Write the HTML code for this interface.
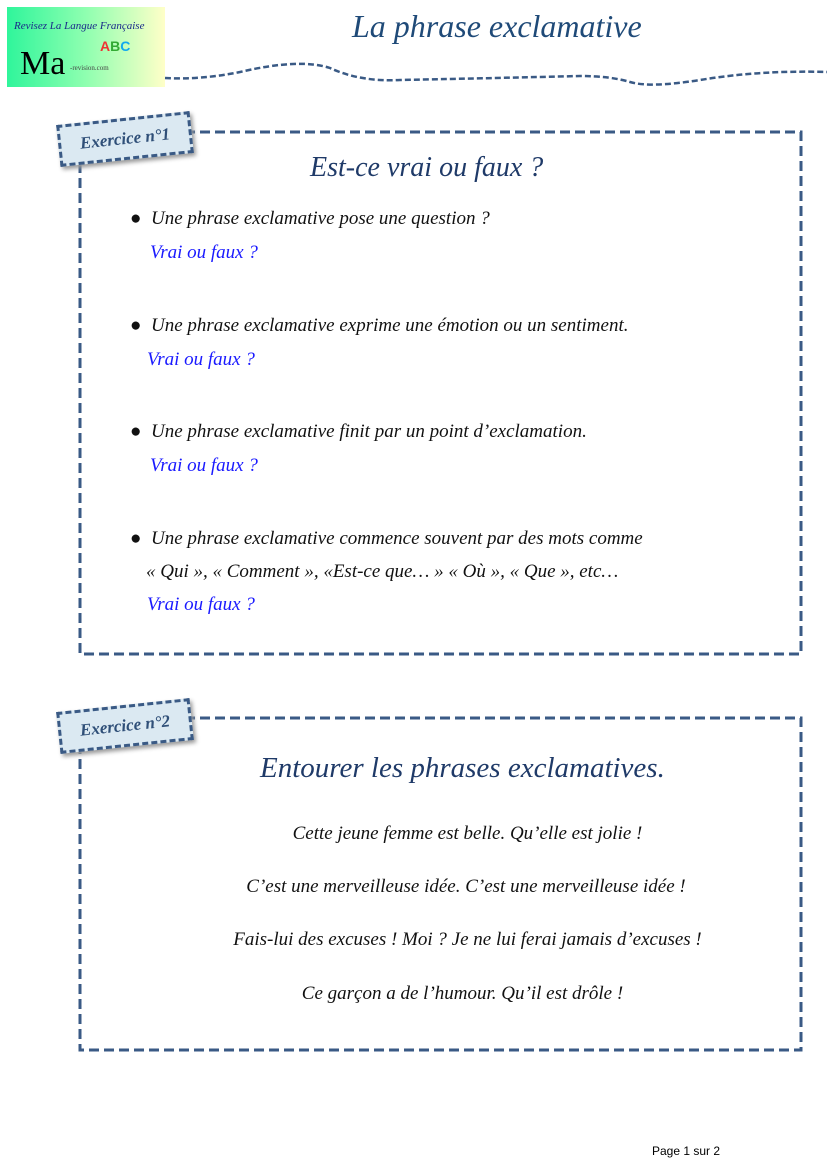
<!DOCTYPE html>
<html><head><meta charset="utf-8"><style>
body{margin:0;width:827px;height:1160px;background:#fff;position:relative;overflow:hidden;font-family:"Liberation Serif",serif}
.a{position:absolute;white-space:nowrap}
.it{font-style:italic}
.lab{position:absolute;background:#dbe9f2;border:3px dashed #3a5a85;transform:rotate(-6deg);font:bold italic 17px "Liberation Serif",serif;color:#2f4f78;text-align:center;box-shadow:2px 3px 4px #999}
.bl{color:#1a1aff}
.b{font-size:19px;color:#111}
</style></head><body>
<div class="a" style="left:7px;top:7px;width:158px;height:80px;background:linear-gradient(90deg,#2ff59b,#8fffb0 50%,#ffffc8)"></div>
<div class="a" style="left:14px;top:20px;font-size:11px;color:#1a2a8a;font-style:italic">Revisez La Langue Française</div>
<div class="a" style="left:100px;top:38px;font:bold 14px 'Liberation Sans';color:#e33">A<span style="color:#3a3">B</span><span style="color:#1ae">C</span></div>
<div class="a" style="left:20px;top:45px;font-size:34px;color:#000">Ma</div>
<div class="a" style="left:70px;top:64px;font-size:7px;color:#444">-revision.com</div>
<div class="a it" style="left:352px;top:8px;font-size:32px;color:#1f4a78">La  phrase exclamative</div>
<svg class="a" style="left:0;top:50px" width="827" height="40"><path d="M165 28 Q200 30 240 22 Q300 8 330 18 Q360 32 400 30 Q500 28 580 26 Q610 26 630 32 Q650 38 700 30 Q760 20 827 22" fill="none" stroke="#3a5a85" stroke-width="2.5" stroke-dasharray="6 3"/></svg>
<svg class="a" style="left:0;top:0" width="827" height="1160">
<g fill="none" stroke="#3a5a85" stroke-width="3" stroke-dasharray="10 5">
<rect x="80" y="132" width="721" height="522"/>
<rect x="80" y="718" width="721" height="332"/>
</g></svg>
<div class="lab" style="left:58px;top:118px;width:128px;height:36px;line-height:36px">Exercice n°1</div>
<div class="a it" style="left:310px;top:152px;font-size:28px;color:#1f3a68">Est-ce vrai ou faux ?</div>
<div class="a it b" style="left:130px;top:208px">●&nbsp;&nbsp;Une phrase exclamative  pose  une question ?</div>
<div class="a it bl" style="left:150px;top:242px;font-size:19px">Vrai ou faux ?</div>
<div class="a it b" style="left:130px;top:315px">●&nbsp;&nbsp;Une phrase exclamative exprime une émotion ou un sentiment.</div>
<div class="a it bl" style="left:147px;top:349px;font-size:19px">Vrai ou faux ?</div>
<div class="a it b" style="left:130px;top:421px">●&nbsp;&nbsp;Une phrase  exclamative  finit par un point d’exclamation.</div>
<div class="a it bl" style="left:150px;top:455px;font-size:19px">Vrai ou faux ?</div>
<div class="a it b" style="left:130px;top:528px">●&nbsp;&nbsp;Une phrase exclamative commence souvent par des mots comme</div>
<div class="a it b" style="left:146px;top:561px">« Qui »,  « Comment »,  «Est-ce que… » « Où »,  « Que », etc…</div>
<div class="a it bl" style="left:147px;top:594px;font-size:19px">Vrai ou faux ?</div>

<div class="lab" style="left:58px;top:705px;width:128px;height:36px;line-height:36px">Exercice n°2</div>
<div class="a it" style="left:260px;top:752px;font-size:29px;color:#1f3a68">Entourer les phrases exclamatives.</div>
<div class="a it b" style="left:0;width:935px;text-align:center;top:823px">Cette jeune femme est belle.  Qu’elle est jolie !</div>
<div class="a it b" style="left:0;width:932px;text-align:center;top:876px">C’est une merveilleuse idée. C’est une merveilleuse idée !</div>
<div class="a it b" style="left:0;width:935px;text-align:center;top:929px">Fais-lui des excuses ! Moi ? Je ne lui  ferai jamais d’excuses !</div>
<div class="a it b" style="left:0;width:925px;text-align:center;top:983px">Ce garçon a de l’humour. Qu’il est drôle !</div>

<div class="a" style="left:652px;top:1144px;font:12px 'Liberation Sans',sans-serif;color:#000">Page 1 sur 2</div>
</body></html>
